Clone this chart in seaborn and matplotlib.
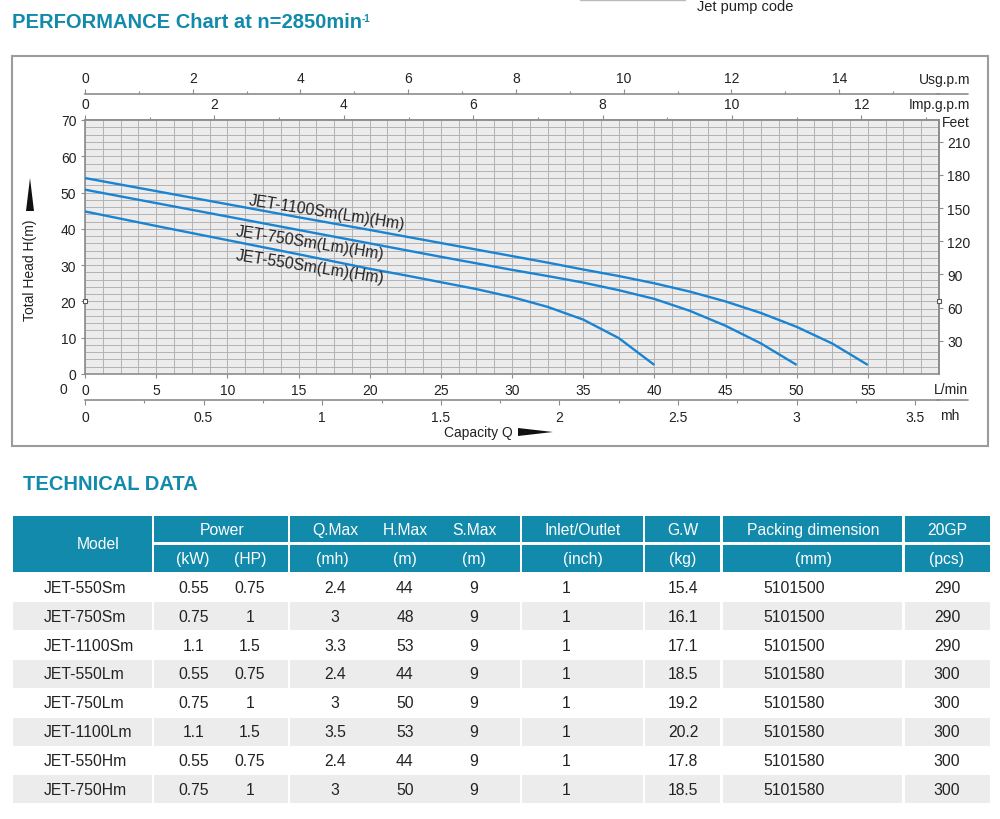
import numpy as np
import pandas as pd
import matplotlib
matplotlib.use("Agg")
import matplotlib.pyplot as plt
import seaborn as sns
from matplotlib.patches import Rectangle, Polygon
from matplotlib.lines import Line2D

# ---------------- data ----------------
curve_names = ["JET-550Sm(Lm)(Hm)", "JET-750Sm(Lm)(Hm)", "JET-1100Sm(Lm)(Hm)"]
flow_550 = [0, 5, 10, 15, 20, 22.5, 25, 27.5, 30, 32.5, 35, 37.5, 40]
head_550 = [44.8, 40.8, 36.9, 33.0, 29.0, 27.2, 25.3, 23.4, 21.2, 18.5, 15.0, 9.9, 2.5]
flow_750 = [0, 5, 10, 15, 20, 25, 27.5, 30, 32.5, 35, 37.5, 40, 42.5, 45, 47.5, 50]
head_750 = [50.8, 47.1, 43.4, 39.7, 36.0, 32.3, 30.5, 28.7, 27.0, 25.2, 23.1, 20.7,
            17.4, 13.3, 8.4, 2.5]
flow_1100 = [0, 5, 10, 15, 20, 25, 30, 32.5, 35, 37.5, 40, 42.5, 45, 47.5, 50, 52.5, 55]
head_1100 = [54.0, 50.4, 46.8, 43.2, 39.7, 36.1, 32.5, 30.7, 28.8, 27.0, 25.0, 22.7,
             20.0, 16.8, 13.0, 8.4, 2.5]

# label anchor (flow L/min, head m) for each curve
label_flow = [15.8, 15.8, 17.0]
label_head = [29.8, 36.3, 44.8]

lmin_ticks = [0, 5, 10, 15, 20, 25, 30, 35, 40, 45, 50, 55]
head_ticks = [0, 10, 20, 30, 40, 50, 60, 70]
usg_ticks = [0, 2, 4, 6, 8, 10, 12, 14]
imp_ticks = [0, 2, 4, 6, 8, 10, 12]
mh_ticks = [0, 0.5, 1, 1.5, 2, 2.5, 3, 3.5]
mh_labels = ["0", "0.5", "1", "1.5", "2", "2.5", "3", "3.5"]
feet_ticks = [30, 60, 90, 120, 150, 180, 210]
ref_head = [20, 20]
ref_flow = [0, 60]

models = ["JET-550Sm", "JET-750Sm", "JET-1100Sm", "JET-550Lm", "JET-750Lm",
          "JET-1100Lm", "JET-550Hm", "JET-750Hm"]
power_kw = ["0.55", "0.75", "1.1", "0.55", "0.75", "1.1", "0.55", "0.75"]
power_hp = ["0.75", "1", "1.5", "0.75", "1", "1.5", "0.75", "1"]
q_max = ["2.4", "3", "3.3", "2.4", "3", "3.5", "2.4", "3"]
h_max = ["44", "48", "53", "44", "50", "53", "44", "50"]
s_max = ["9", "9", "9", "9", "9", "9", "9", "9"]
inlet = ["1", "1", "1", "1", "1", "1", "1", "1"]
gw = ["15.4", "16.1", "17.1", "18.5", "19.2", "20.2", "17.8", "18.5"]
packing = ["5101500", "5101500", "5101500", "5101580", "5101580", "5101580", "5101580", "5101580"]
gp20 = ["290", "290", "290", "300", "300", "300", "300", "300"]

hdr_top = ["Power", "Q.Max", "H.Max", "S.Max", "Inlet/Outlet", "G.W", "Packing dimension", "20GP"]
hdr_bot = ["(kW)", "(HP)", "(mh)", "(m)", "(m)", "(inch)", "(kg)", "(mm)", "(pcs)"]

# ---------------- style ----------------
sns.set_theme(style="white")
plt.rcParams["font.family"] = ["Liberation Sans", "DejaVu Sans"]

TEAL = "#128aab"
BLUE = "#1a84d2"
AXC = "#8c8c8c"
TXT = "#222222"

W, H = 1000, 820
fig = plt.figure(figsize=(10, 8.2), dpi=100)
fig.patch.set_facecolor("white")


def FX(x):
    return x / W


def FY(y):
    return 1 - y / H


tax = fig.add_axes([0, 0, 1, 1], zorder=0)
tax.set_xlim(0, W)
tax.set_ylim(H, 0)
tax.axis("off")

# ---------------- chart ----------------
ax = fig.add_axes([FX(85), FY(375), FX(939) - FX(85), FY(121) - FY(375)], zorder=2)
ax.set_facecolor("#ececec")

df = pd.concat([
    pd.DataFrame({"flow": flow_550, "head": head_550, "model": curve_names[0]}),
    pd.DataFrame({"flow": flow_750, "head": head_750, "model": curve_names[1]}),
    pd.DataFrame({"flow": flow_1100, "head": head_1100, "model": curve_names[2]}),
])
sns.lineplot(data=df, x="flow", y="head", hue="model",
             palette={n: BLUE for n in curve_names}, legend=False, ax=ax,
             lw=1.7, estimator=None, sort=False, zorder=3)
for ln in ax.get_lines():
    ln.set_solid_joinstyle("round")
    ln.set_solid_capstyle("butt")

ax.set_xlim(0, 60)
ax.set_ylim(0, 70)
ax.set_xticks(lmin_ticks)
ax.set_yticks(head_ticks)
ax.set_xticks(np.arange(0, 60.01, 1.25), minor=True)
ax.set_yticks(np.arange(0, 70.01, 2), minor=True)
ax.grid(which="both", color="#b3b3b3", lw=0.7, zorder=0)
ax.set_axisbelow(True)
ax.tick_params(which="minor", length=0)
ax.tick_params(which="major", bottom=True, left=True, direction="out", length=2.8,
               width=0.8, color=AXC, labelsize=10, labelcolor=TXT, pad=3.5)
ax.set_xlabel("")
ax.set_ylabel("")
for sp in ax.spines.values():
    sp.set_color(AXC)
    sp.set_linewidth(1.2)

for name, fx, hy in zip(curve_names, label_flow, label_head):
    ax.text(fx, hy, name, rotation=-9, rotation_mode="anchor", ha="center",
            va="center", fontsize=11.3, color=TXT, zorder=4)

ax.plot(ref_flow, ref_head, "s", mfc="white", mec="#555555", ms=3.5, mew=0.8,
        clip_on=False, zorder=5)

# secondary axes
sec_imp = ax.secondary_xaxis("top", functions=(lambda x: x / 4.546, lambda x: x * 4.546))
sec_imp.set_xticks(imp_ticks)
sec_imp.set_xticks(np.arange(1, 14, 2), minor=True)
sec_imp.tick_params(which="major", length=3.6, width=0.8, color=AXC, labelsize=10,
                    labelcolor=TXT, pad=3)
sec_imp.tick_params(which="minor", length=2.2, width=0.8, color=AXC)
for sp in sec_imp.spines.values():
    sp.set_color(AXC)
    sp.set_linewidth(1.2)

sec_usg = ax.secondary_xaxis(1 + 26 / 254, functions=(lambda x: x / 3.785, lambda x: x * 3.785))
sec_usg.set_xticks(usg_ticks)
sec_usg.set_xticks(np.arange(1, 16, 2), minor=True)
sec_usg.tick_params(which="major", length=3.6, width=0.8, color=AXC, labelsize=10,
                    labelcolor=TXT, pad=3)
sec_usg.tick_params(which="minor", length=2.2, width=0.8, color=AXC)
for sp in sec_usg.spines.values():
    sp.set_color(AXC)
    sp.set_linewidth(1.2)

sec_mh = ax.secondary_xaxis(-26 / 254, functions=(lambda x: x * 0.06, lambda x: x / 0.06))
sec_mh.set_xticks(mh_ticks, labels=mh_labels)
sec_mh.set_xticks(np.arange(0.25, 3.6, 0.5), minor=True)
sec_mh.tick_params(which="major", length=3.6, width=0.8, color=AXC, labelsize=10,
                   labelcolor=TXT, pad=3.5)
sec_mh.tick_params(which="minor", length=2.2, width=0.8, color=AXC)
for sp in sec_mh.spines.values():
    sp.set_color(AXC)
    sp.set_linewidth(1.2)

sec_ft = ax.secondary_yaxis("right", functions=(lambda y: y * 3.281, lambda y: y / 3.281))
sec_ft.set_yticks(feet_ticks)
sec_ft.tick_params(which="major", length=3.2, width=0.8, color=AXC, labelsize=10,
                   labelcolor=TXT, pad=2.5)
for sp in sec_ft.spines.values():
    sp.set_color(AXC)
    sp.set_linewidth(1.2)

# axis line extensions
for yy in (95, 401):
    fig.add_artist(Line2D([FX(937), FX(968)], [FY(yy), FY(yy)], color=AXC, lw=1.2))

# unit texts
fig.text(FX(970), FY(80), "Usg.p.m", ha="right", va="center", fontsize=10, color=TXT)
fig.text(FX(970), FY(105), "Imp.g.p.m", ha="right", va="center", fontsize=10, color=TXT)
fig.text(FX(970), FY(123), "Feet", ha="right", va="center", fontsize=10, color=TXT)
fig.text(FX(968), FY(390), "L/min", ha="right", va="center", fontsize=10, color=TXT)
fig.text(FX(940), FY(416), "mh", ha="left", va="center", fontsize=10, color=TXT)
fig.text(FX(63), FY(390), "0", ha="center", va="center", fontsize=10, color=TXT)
fig.text(FX(478), FY(433), "Capacity Q", ha="center", va="center", fontsize=10, color=TXT)
fig.text(FX(30), FY(270), "Total Head H(m)", ha="center", va="center", rotation=90,
         fontsize=10, color=TXT)

# arrows
fig.add_artist(Polygon([[FX(518), FY(429)], [FX(553), FY(433)], [FX(518), FY(437)]],
                       closed=True, transform=fig.transFigure, fc="#111111", ec="none"))
fig.add_artist(Polygon([[FX(26), FY(212)], [FX(30), FY(179)], [FX(34), FY(212)]],
                       closed=True, transform=fig.transFigure, fc="#111111", ec="none"))

# frame and titles
tax.add_patch(Rectangle((12, 57), 976, 390, fill=False, ec="#9b9b9b", lw=1.5))
tax.text(12, 23, "PERFORMANCE Chart at n=2850min", ha="left", va="center",
         fontsize=14.5, fontweight="bold", color=TEAL)
tax.text(362, 19, "-1", ha="left", va="center", fontsize=7, fontweight="bold", color=TEAL)
tax.text(697, 7, "Jet pump code", ha="left", va="center", fontsize=10.5, color=TXT)
tax.plot([580, 685], [0.8, 0.8], color="#bbbbbb", lw=1)
tax.text(23, 485, "TECHNICAL DATA", ha="left", va="center", fontsize=14.5,
         fontweight="bold", color=TEAL)

# ---------------- table ----------------
col_edges = [(13, 152), (154, 288), (290, 520), (522, 643), (645, 720), (723, 902), (905, 990)]
hdr1 = (517, 543)
hdr2 = (546, 573)
tax.add_patch(Rectangle((13, 517), 139, 56, fc=TEAL, ec="none"))
for (x0, x1) in col_edges[1:]:
    for (y0, y1) in (hdr1, hdr2):
        tax.add_patch(Rectangle((x0, y0), x1 - x0, y1 - y0, fc=TEAL, ec="none"))

FS = 11.3
tax.text(98, 545, "Model", ha="center", va="center", fontsize=FS, color="white")
top_x = [222, 335, 405, 474, 583, 683, 813, 947]
for t, x in zip(hdr_top, top_x):
    tax.text(x, 530.5, t, ha="center", va="center", fontsize=FS, color="white")
bot_x = [193, 250, 332, 405, 474, 583, 683, 813, 947]
for t, x in zip(hdr_bot, bot_x):
    tax.text(x, 559.5, t, ha="center", va="center", fontsize=FS, color="white")

row_top0 = 574
row_h = 28.85
for i in range(len(models)):
    y0 = row_top0 + i * row_h
    if i % 2 == 1:
        for (x0, x1) in col_edges:
            tax.add_patch(Rectangle((x0, y0 + 0.5), x1 - x0, row_h - 1, fc="#ececec", ec="none"))
    yc = y0 + row_h / 2
    tax.text(44, yc, models[i], ha="left", va="center", fontsize=FS, color=TXT)
    vals = [power_kw[i], power_hp[i], q_max[i], h_max[i], s_max[i], inlet[i], gw[i],
            packing[i], gp20[i]]
    xs = [194, 250, 335, 405, 474, 566, 683, 794, 947]
    for v, x in zip(vals, xs):
        tax.text(x, yc, v, ha="center", va="center", fontsize=FS, color=TXT)

fig.savefig("out.png", dpi=100)
